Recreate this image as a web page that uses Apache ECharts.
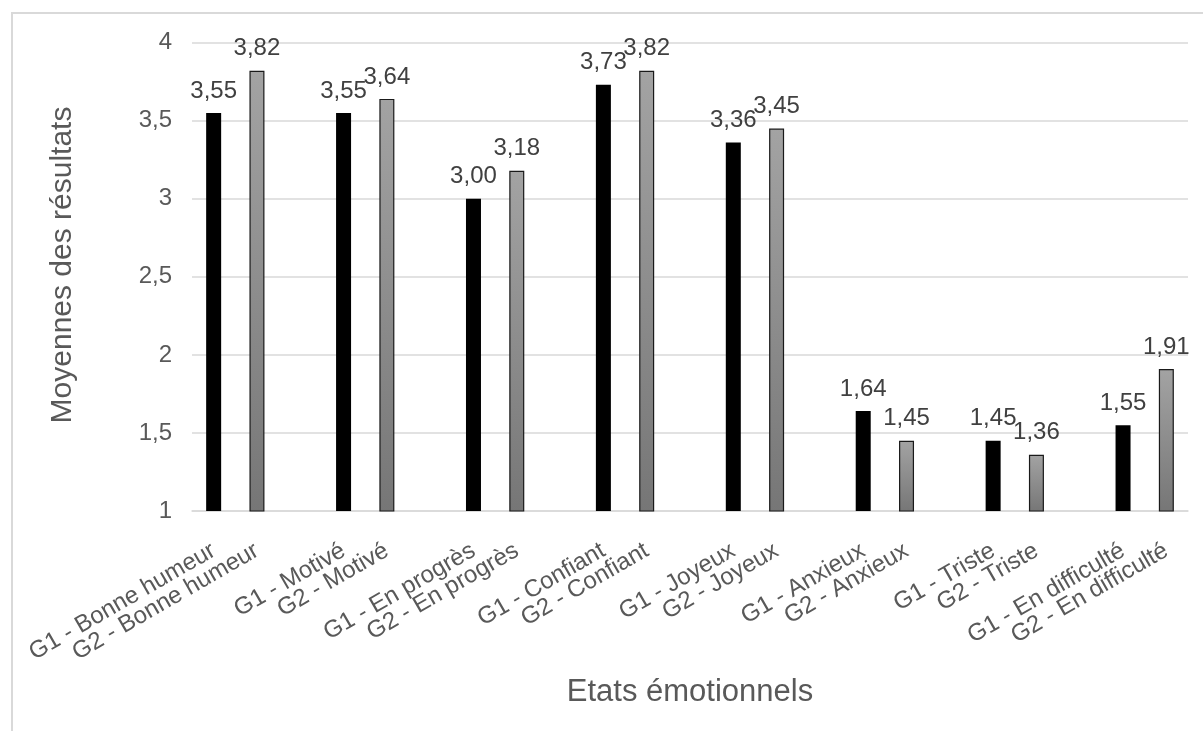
<!DOCTYPE html>
<html>
<head>
<meta charset="utf-8">
<script src="https://cdn.jsdelivr.net/npm/echarts@6/dist/echarts.min.js"></script>
<style>
html,body{margin:0;padding:0;background:#fff;}
#chart{width:1203px;height:731px;}
</style>
</head>
<body>
<div id="chart"></div>
<script>
const groups = ['Bonne humeur','Motivé','En progrès','Confiant','Joyeux','Anxieux','Triste','En difficulté'];
const g1Values = [3.55, 3.55, 3.00, 3.73, 3.36, 1.64, 1.45, 1.55];
const g2Values = [3.82, 3.64, 3.18, 3.82, 3.45, 1.45, 1.36, 1.91];
const yTicks = [1, 1.5, 2, 2.5, 3, 3.5, 4];
const xTitle = 'Etats émotionnels';
const yTitle = 'Moyennes des résultats';

const FONT = '"Liberation Sans", Arial, sans-serif';

// Build category list: G1, G2, spacer for each group
const categories = [];
const s1 = [];
const s2 = [];
groups.forEach(function (g, i) {
  categories.push('G1 - ' + g); s1.push(g1Values[i]); s2.push('-');
  categories.push('G2 - ' + g); s1.push('-'); s2.push(g2Values[i]);
  if (i < groups.length - 1) {
    categories.push(' '.repeat(i + 1)); s1.push('-'); s2.push('-');
  }
});

const fmt = function (v) { return v.toFixed(2).replace('.', ','); };

const chart = echarts.init(document.getElementById('chart'), null, {renderer: 'canvas'});
chart.setOption({
  animation: false,
  textStyle: {fontFamily: FONT},
  grid: {left: 192, right: 15, top: 42.7, bottom: 220, containLabel: false},
  graphic: [
    {type: 'rect', shape: {x: 12, y: 13, width: 1200, height: 730},
     style: {fill: 'none', stroke: '#d9d9d9', lineWidth: 2}, silent: true},
    {type: 'text', x: 63, y: 265, rotation: Math.PI / 2,
     style: {text: yTitle, font: '30px ' + FONT, fill: '#595959', textAlign: 'center', textVerticalAlign: 'middle'}},
    {type: 'text', x: 690, y: 692,
     style: {text: xTitle, font: '31px ' + FONT, fill: '#595959', textAlign: 'center', textVerticalAlign: 'middle'}}
  ],
  xAxis: {
    type: 'category',
    data: categories,
    axisLine: {show: true, lineStyle: {color: '#d9d9d9', width: 1.5}},
    axisTick: {show: false},
    axisLabel: {
      interval: 0, rotate: 30, margin: 38, fontSize: 24, color: '#595959', fontFamily: FONT,
      formatter: function (v) { return v.trim() === '' ? '' : v; }
    },
    splitLine: {show: false}
  },
  yAxis: {
    type: 'value',
    min: yTicks[0], max: yTicks[yTicks.length - 1], interval: 0.5,
    axisLine: {show: false},
    axisTick: {show: false},
    axisLabel: {fontSize: 24, color: '#595959', margin: 20, fontFamily: FONT,
      formatter: function (v) { return String(v).replace('.', ','); }},
    splitLine: {lineStyle: {color: '#d9d9d9', width: 1.5}}
  },
  series: [
    {
      name: 'G1', type: 'bar', data: s1, barWidth: 15, barGap: '-100%',
      itemStyle: {color: '#000000'},
      label: {show: true, position: 'top', distance: 10, fontSize: 24, color: '#404040', fontFamily: FONT,
        formatter: function (p) { return fmt(p.value); }}
    },
    {
      name: 'G2', type: 'bar', data: s2, barWidth: 15, barGap: '-100%',
      itemStyle: {
        color: new echarts.graphic.LinearGradient(0, 0, 0, 1, [
          {offset: 0, color: '#a3a3a3'}, {offset: 1, color: '#767676'}
        ]),
        borderColor: '#1a1a1a', borderWidth: 1.2
      },
      label: {show: true, position: 'top', distance: 10, fontSize: 24, color: '#404040', fontFamily: FONT,
        formatter: function (p) { return fmt(p.value); }}
    }
  ]
});
</script>
</body>
</html>
